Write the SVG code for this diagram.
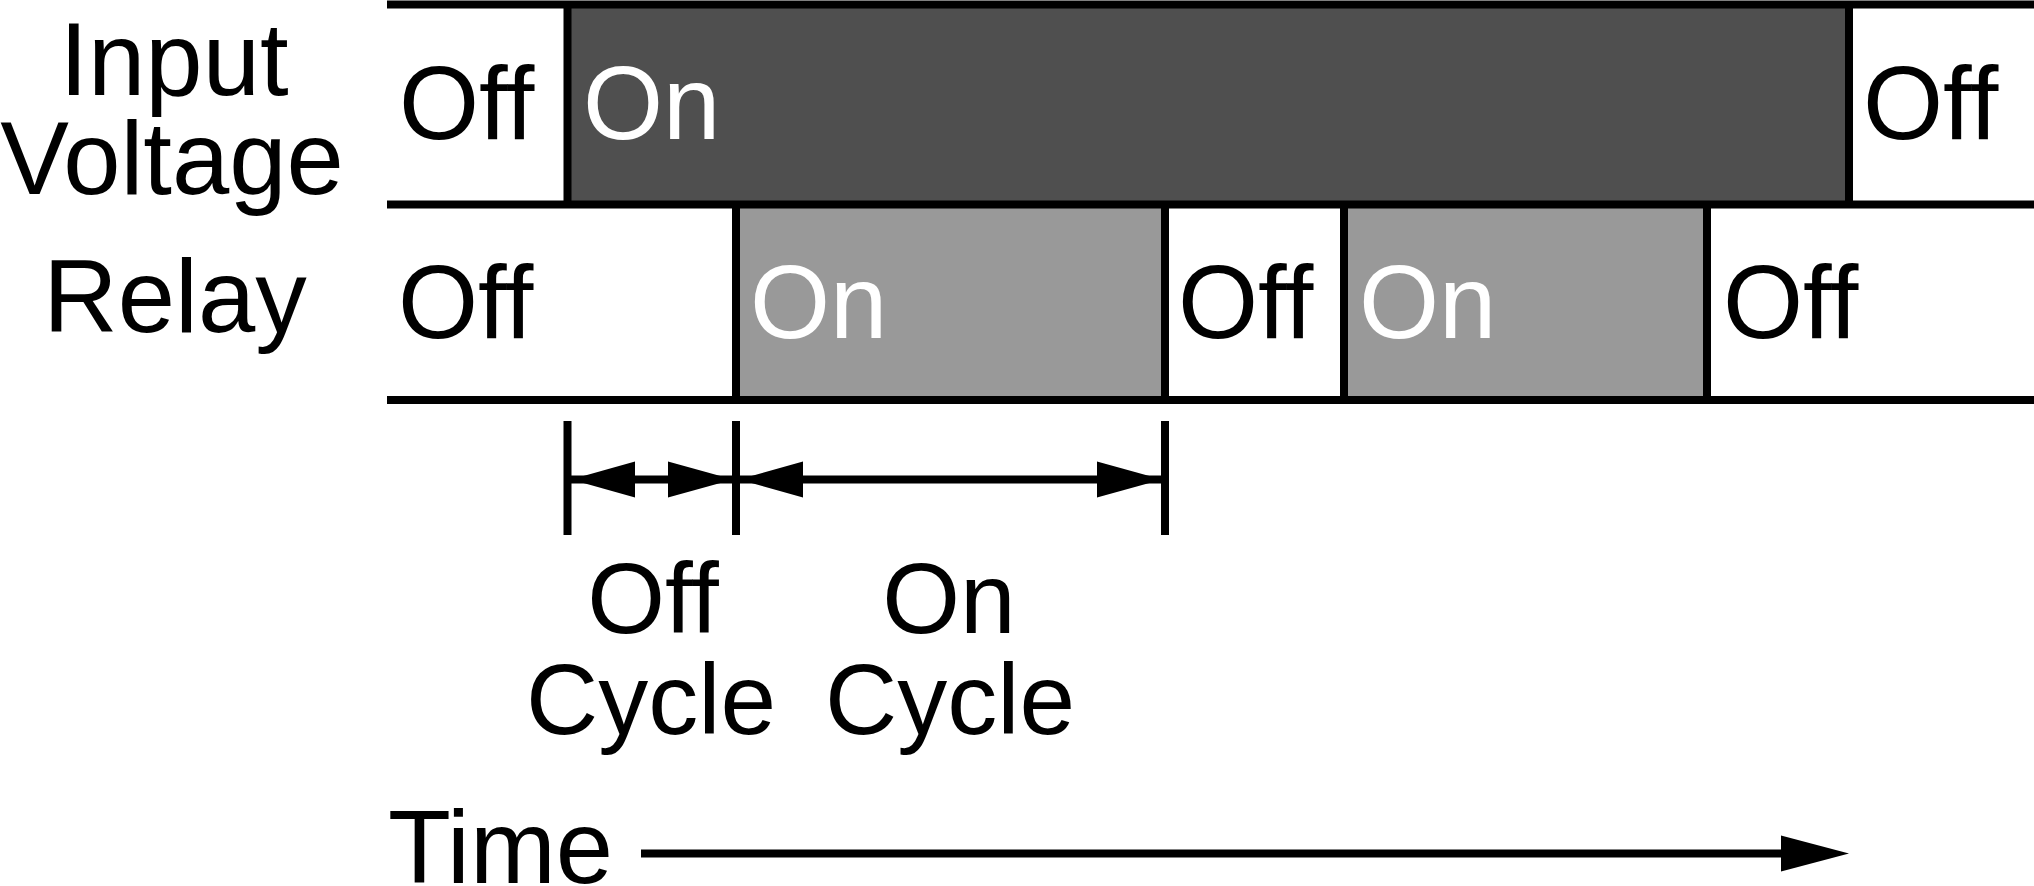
<svg xmlns="http://www.w3.org/2000/svg" width="2034" height="886" viewBox="0 0 2034 886">
  <defs>
    <style>
      text { font-family: "Liberation Sans", Arial, sans-serif; font-size: 103px; fill: #000; }
      .w { fill: #fff; }
      .mid { text-anchor: middle; }
      .cl { font-size: 100px; }
      .hl { stroke: #000; stroke-width: 8; fill: none; }
      .vl { stroke: #000; stroke-width: 8; fill: none; }
      .dim { stroke: #000; stroke-width: 8; fill: none; }
      .head { fill: #000; stroke: none; }
    </style>
  </defs>
  <rect width="2034" height="886" fill="#fff"/>

  <g id="row-labels">
    <text class="mid" x="174" y="95">Input</text>
    <text class="mid" x="172" y="194">Voltage</text>
    <text class="mid" x="175" y="332">Relay</text>
  </g>

  <g id="input-voltage">
    <rect x="567" y="4" width="1282" height="200" fill="#4f4f4f"/>
    <text x="399" y="139">Off</text>
    <text class="w" x="583" y="139">On</text>
    <text x="1863" y="139">Off</text>
  </g>

  <g id="relay">
    <rect x="736" y="204" width="429" height="196" fill="#999999"/>
    <rect x="1344" y="204" width="363" height="196" fill="#999999"/>
    <text x="398" y="338">Off</text>
    <text class="w" x="750" y="338">On</text>
    <text x="1178" y="338">Off</text>
    <text class="w" x="1359" y="338">On</text>
    <text x="1723" y="338">Off</text>
  </g>

  <g id="grid-lines">
    <line class="hl" x1="387" y1="4.5" x2="2034" y2="4.5"/>
    <line class="hl" x1="387" y1="204.5" x2="2034" y2="204.5"/>
    <line class="hl" x1="387" y1="400" x2="2034" y2="400"/>
    <line class="vl" x1="567.5" y1="4" x2="567.5" y2="204"/>
    <line class="vl" x1="1849" y1="4" x2="1849" y2="204"/>
    <line class="vl" x1="736" y1="204" x2="736" y2="400"/>
    <line class="vl" x1="1165" y1="204" x2="1165" y2="400"/>
    <line class="vl" x1="1344" y1="204" x2="1344" y2="400"/>
    <line class="vl" x1="1707" y1="204" x2="1707" y2="400"/>
  </g>

  <g id="connectors">
    <line class="vl" x1="567.5" y1="421" x2="567.5" y2="535"/>
    <line class="vl" x1="736" y1="421" x2="736" y2="535"/>
    <line class="vl" x1="1165" y1="421" x2="1165" y2="535"/>
    <line class="dim" x1="570" y1="479.5" x2="1162" y2="479.5"/>
    <polygon class="head" points="571,479.5 635,461.5 635,497.5"/>
    <polygon class="head" points="733,479.5 668,461.5 668,497.5"/>
    <polygon class="head" points="739,479.5 803,461.5 803,497.5"/>
    <polygon class="head" points="1162,479.5 1097,461.5 1097,497.5"/>
    <line class="dim" x1="641" y1="853.5" x2="1790" y2="853.5"/>
    <polygon class="head" points="1849,853.5 1781,835.5 1781,871.5"/>
  </g>

  <g id="cycle-labels">
    <text class="mid cl" x="653" y="633">Off</text>
    <text class="mid cl" x="651" y="734">Cycle</text>
    <text class="mid cl" x="949" y="633">On</text>
    <text class="mid cl" x="950" y="734">Cycle</text>
  </g>

  <g id="time-label">
    <text x="388" y="883">Time</text>
  </g>
</svg>
